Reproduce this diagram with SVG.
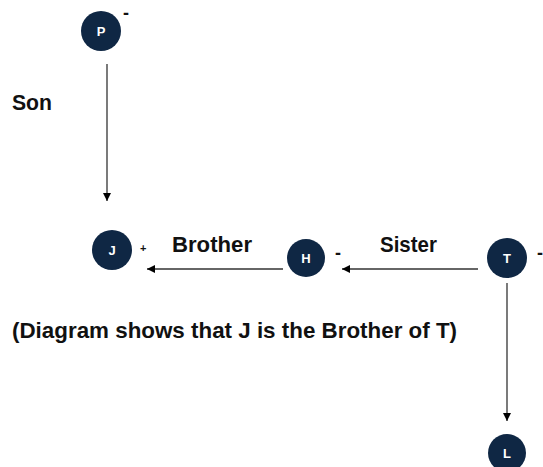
<svg xmlns="http://www.w3.org/2000/svg" width="543" height="467" viewBox="0 0 543 467">
<defs>
<marker id="ah" viewBox="0 0 10 10" refX="10" refY="5" markerWidth="8" markerHeight="8" markerUnits="userSpaceOnUse" orient="auto">
<path d="M0,0 L10,5 L0,10 z" fill="#000"/>
</marker>
<style>
.n{fill:#0f2744;}
.nl{font-family:"Liberation Sans",Arial,sans-serif;font-weight:bold;font-size:13px;fill:#fff;text-anchor:middle;}
.lb{font-family:"Liberation Sans",Arial,sans-serif;font-weight:bold;font-size:22px;fill:#111;}
.sg{font-family:"Liberation Sans",Arial,sans-serif;font-weight:bold;font-size:18px;fill:#111;}
.sp{font-family:"Liberation Sans",Arial,sans-serif;font-weight:bold;font-size:11px;fill:#111;}
.c{stroke:#333;stroke-width:1.3;fill:none;marker-end:url(#ah);}
</style>
</defs>
<rect width="543" height="467" fill="#fff"/>
<g id="connectors">
<line class="c" x1="107" y1="64" x2="107" y2="201"/>
<line class="c" x1="283" y1="269" x2="147" y2="269"/>
<line class="c" x1="478" y1="269" x2="342" y2="269"/>
<line class="c" x1="507" y1="283" x2="507" y2="421"/>
</g>
<g id="node-P">
<circle class="n" cx="101" cy="31" r="20"/>
<text class="nl" x="101" y="36">P</text>
<text class="sg" x="123" y="19">-</text>
</g>
<g id="node-J">
<circle class="n" cx="112" cy="250" r="20"/>
<text class="nl" x="112" y="255">J</text>
<text class="sp" x="140" y="252">+</text>
</g>
<g id="node-H">
<circle class="n" cx="306" cy="258" r="19"/>
<text class="nl" x="306" y="263">H</text>
<text class="sg" x="335" y="259">-</text>
</g>
<g id="node-T">
<circle class="n" cx="507" cy="258" r="20"/>
<text class="nl" x="507" y="263">T</text>
<text class="sg" x="537" y="259">-</text>
</g>
<g id="node-L">
<circle class="n" cx="507" cy="453" r="19"/>
<text class="nl" x="507" y="458">L</text>
</g>
<g id="labels">
<text class="lb" x="12" y="110" textLength="40" lengthAdjust="spacingAndGlyphs">Son</text>
<text class="lb" x="172" y="252" textLength="80" lengthAdjust="spacingAndGlyphs">Brother</text>
<text class="lb" x="380" y="252" textLength="57" lengthAdjust="spacingAndGlyphs">Sister</text>
<text class="lb" x="12" y="338" textLength="445" lengthAdjust="spacingAndGlyphs">(Diagram shows that J is the Brother of T)</text>
</g>
</svg>
